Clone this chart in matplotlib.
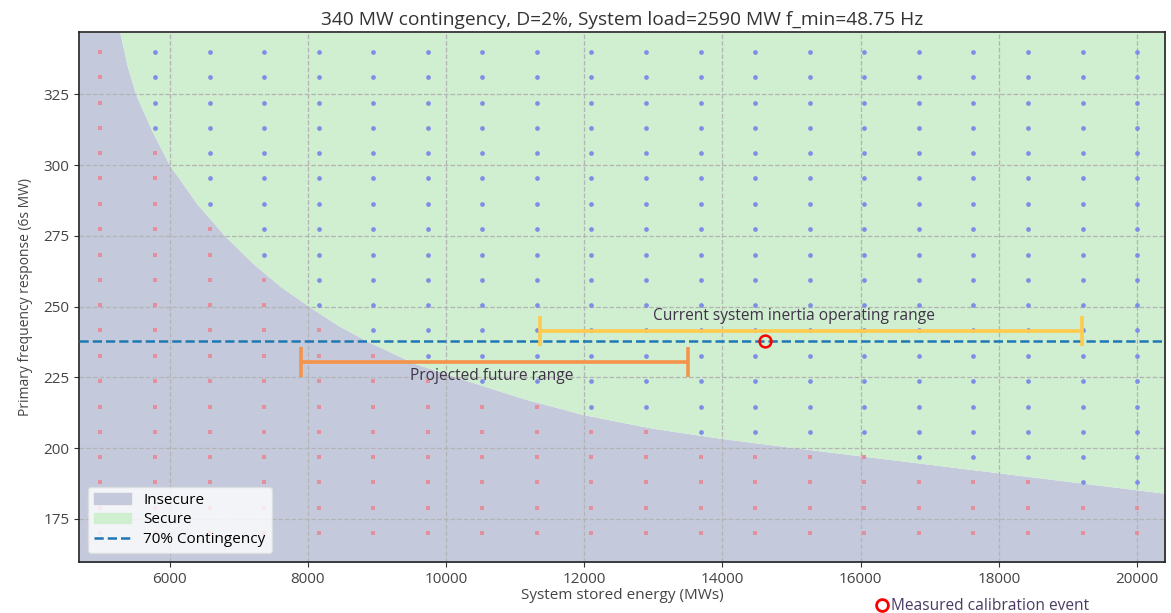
import numpy as np
import matplotlib
matplotlib.use("Agg")
import matplotlib.pyplot as plt
from matplotlib.patches import Patch
from matplotlib.lines import Line2D

plt.rcParams['font.family'] = ['Open Sans', 'DejaVu Sans']

# grid of operating points that were checked
grid_e = [5000, 5789, 6579, 7368, 8158, 8947, 9737, 10526, 11316, 12105,
          12895, 13684, 14474, 15263, 16053, 16842, 17632, 18421, 19211, 20000]
grid_r = [170.0, 178.9, 187.9, 196.8, 205.8, 214.7, 223.7, 232.6, 241.6, 250.5,
          259.5, 268.4, 277.4, 286.3, 295.3, 304.2, 313.2, 322.1, 331.1, 340.0]

# secure / insecure boundary
bound_e = [5280, 5390, 5510, 5750, 6000, 6400, 6800, 7200, 7600, 8040, 8450,
           8860, 9550, 10300, 11150, 12000, 13000, 14000, 15000, 16000, 18000, 20500]
bound_r = [347.0, 334.8, 325.0, 311.8, 300.0, 286.2, 275.0, 265.4, 257.2, 249.7, 243.2,
           237.8, 229.9, 223.9, 217.3, 211.8, 207.0, 203.4, 200.3, 197.3, 191.3, 183.8]

contingency = 340
contingency_70 = 238
current_range = [11360, 19200]
current_y = 241.5
projected_range = [7900, 13500]
projected_y = 230.5
calib_e = 14610
calib_r = 238

xlo, xhi = 4690, 20405
ylo, yhi = 159.7, 346.9

fig = plt.figure(figsize=(11.71, 6.13), dpi=100)
ax = fig.add_axes([0.0675, 0.0827, 0.9274, 0.8646])

ax.fill_between(np.r_[xlo, bound_e], ylo, np.r_[yhi, bound_r],
                color='#c4cadc', lw=0, zorder=0.5)
ax.fill_between(bound_e, bound_r, yhi, color='#d0eed0', lw=0, zorder=0.5)

E, R = np.meshgrid(grid_e, grid_r)
limit = np.interp(E, bound_e, bound_r)
ok = R > limit
ax.plot(E[~ok], R[~ok], 's', color='#e3909c', ms=2.8, mew=0, zorder=2)
ax.plot(E[ok], R[ok], 'o', color='#7d8ee6', ms=3.4, mew=0, zorder=2)

ax.axhline(contingency_70, color='#1f77b4', ls='--', lw=1.8, zorder=3)

ax.errorbar(np.mean(current_range), current_y,
            xerr=(current_range[1] - current_range[0]) / 2,
            color='#ffcb4c', lw=2.6, capsize=10.5, capthick=2.6, zorder=4)
ax.errorbar(np.mean(projected_range), projected_y,
            xerr=(projected_range[1] - projected_range[0]) / 2,
            color='#f5934a', lw=2.6, capsize=10.5, capthick=2.6, zorder=4)
ax.text(15040, 246.7, "Current system inertia operating range", ha='center',
        va='center', fontsize=11.2, color='#3f3348', zorder=5)
ax.text(10660, 225.5, "Projected future range", ha='center', va='center',
        fontsize=11.2, color='#3f3348', zorder=5)

ax.plot(calib_e, calib_r, 'o', mfc='none', mec='red', mew=1.8, ms=8.5, zorder=6)

ax.set_xlim(xlo, xhi)
ax.set_ylim(ylo, yhi)
ax.set_xticks([6000, 8000, 10000, 12000, 14000, 16000, 18000, 20000])
ax.set_yticks([175, 200, 225, 250, 275, 300, 325])
ax.grid(True, ls='--', color='#b4b4b4', lw=0.9, zorder=1)
ax.tick_params(labelsize=11, labelcolor='#444444', color='#333333')
for s in ax.spines.values():
    s.set_color('#222222')
    s.set_linewidth(1.2)

ax.set_title("340 MW contingency, D=2%, System load=2590 MW f_min=48.75 Hz",
             fontsize=13.8, color='#333333', pad=5)
ax.set_xlabel("System stored energy (MWs)", fontsize=11, color='#444444', labelpad=1)
ax.set_ylabel("Primary frequency response (6s MW)", fontsize=10, color='#444444',
              labelpad=7)

handles = [Patch(color='#c4cadc', label='Insecure'),
           Patch(color='#d0eed0', label='Secure'),
           Line2D([], [], color='#1f77b4', ls='--', lw=1.8, label='70% Contingency')]
ax.legend(handles=handles, loc='lower left', fontsize=11, handlelength=2.4,
          labelspacing=0.3, framealpha=0.8, edgecolor='#dddddd', borderaxespad=0.6)

calib = Line2D([], [], marker='o', ls='none', mfc='none', mec='red', mew=2, ms=8.5)
fig.legend([calib], ['Measured calibration event'], loc='lower left',
           bbox_to_anchor=(0.736, -0.025), frameon=False, fontsize=11.2,
           handlelength=0.8, handletextpad=0.15, labelcolor='#4b3b63')

fig.savefig("out.png", dpi=100)
